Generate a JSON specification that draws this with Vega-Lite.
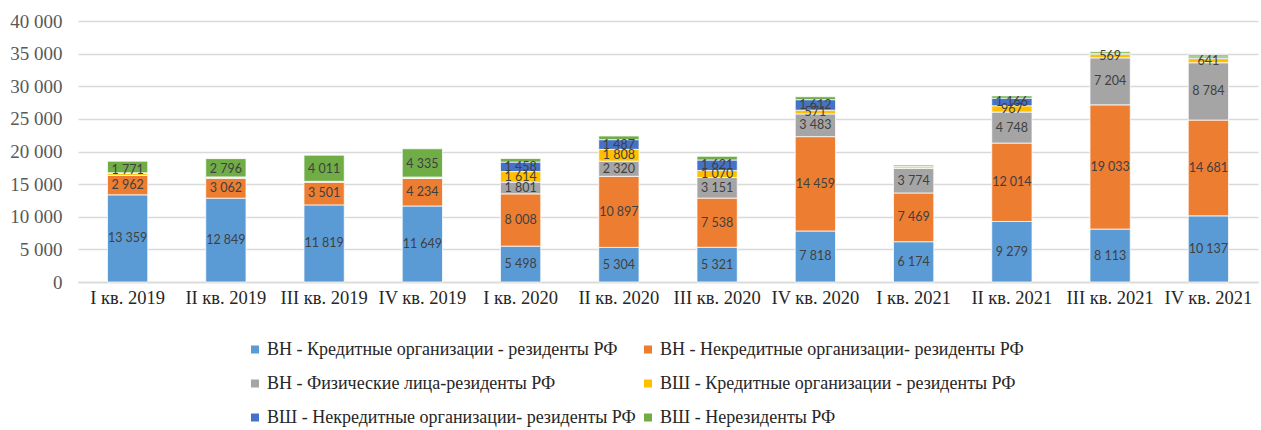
{
  "$schema": "https://vega.github.io/schema/vega-lite/v6.json",
  "autosize": {"type": "none"},
  "padding": {"left": 78, "top": 21, "right": 3, "bottom": 148},
  "width": 1180,
  "height": 261,
  "background": "white",
  "config": {
    "locale": {"number": {"decimal": ",", "thousands": " ", "grouping": [3], "currency": ["", ""]}},
    "view": {"stroke": null}
  },
  "data": {"values": [
    {"q": "I кв. 2019", "s": "ВН - Кредитные организации - резиденты РФ", "v": 13359},
    {"q": "I кв. 2019", "s": "ВН - Некредитные организации- резиденты РФ", "v": 2962},
    {"q": "I кв. 2019", "s": "ВН - Физические лица-резиденты РФ", "v": 20},
    {"q": "I кв. 2019", "s": "ВШ - Кредитные организации - резиденты РФ", "v": 350},
    {"q": "I кв. 2019", "s": "ВШ - Некредитные организации- резиденты РФ", "v": 50},
    {"q": "I кв. 2019", "s": "ВШ - Нерезиденты РФ", "v": 1771},
    {"q": "II кв. 2019", "s": "ВН - Кредитные организации - резиденты РФ", "v": 12849},
    {"q": "II кв. 2019", "s": "ВН - Некредитные организации- резиденты РФ", "v": 3062},
    {"q": "II кв. 2019", "s": "ВН - Физические лица-резиденты РФ", "v": 50},
    {"q": "II кв. 2019", "s": "ВШ - Кредитные организации - резиденты РФ", "v": 50},
    {"q": "II кв. 2019", "s": "ВШ - Некредитные организации- резиденты РФ", "v": 100},
    {"q": "II кв. 2019", "s": "ВШ - Нерезиденты РФ", "v": 2796},
    {"q": "III кв. 2019", "s": "ВН - Кредитные организации - резиденты РФ", "v": 11819},
    {"q": "III кв. 2019", "s": "ВН - Некредитные организации- резиденты РФ", "v": 3501},
    {"q": "III кв. 2019", "s": "ВН - Физические лица-резиденты РФ", "v": 30},
    {"q": "III кв. 2019", "s": "ВШ - Кредитные организации - резиденты РФ", "v": 30},
    {"q": "III кв. 2019", "s": "ВШ - Некредитные организации- резиденты РФ", "v": 50},
    {"q": "III кв. 2019", "s": "ВШ - Нерезиденты РФ", "v": 4011},
    {"q": "IV кв. 2019", "s": "ВН - Кредитные организации - резиденты РФ", "v": 11649},
    {"q": "IV кв. 2019", "s": "ВН - Некредитные организации- резиденты РФ", "v": 4234},
    {"q": "IV кв. 2019", "s": "ВН - Физические лица-резиденты РФ", "v": 50},
    {"q": "IV кв. 2019", "s": "ВШ - Кредитные организации - резиденты РФ", "v": 50},
    {"q": "IV кв. 2019", "s": "ВШ - Некредитные организации- резиденты РФ", "v": 100},
    {"q": "IV кв. 2019", "s": "ВШ - Нерезиденты РФ", "v": 4335},
    {"q": "I кв. 2020", "s": "ВН - Кредитные организации - резиденты РФ", "v": 5498},
    {"q": "I кв. 2020", "s": "ВН - Некредитные организации- резиденты РФ", "v": 8008},
    {"q": "I кв. 2020", "s": "ВН - Физические лица-резиденты РФ", "v": 1801},
    {"q": "I кв. 2020", "s": "ВШ - Кредитные организации - резиденты РФ", "v": 1614},
    {"q": "I кв. 2020", "s": "ВШ - Некредитные организации- резиденты РФ", "v": 1458},
    {"q": "I кв. 2020", "s": "ВШ - Нерезиденты РФ", "v": 540},
    {"q": "II кв. 2020", "s": "ВН - Кредитные организации - резиденты РФ", "v": 5304},
    {"q": "II кв. 2020", "s": "ВН - Некредитные организации- резиденты РФ", "v": 10897},
    {"q": "II кв. 2020", "s": "ВН - Физические лица-резиденты РФ", "v": 2320},
    {"q": "II кв. 2020", "s": "ВШ - Кредитные организации - резиденты РФ", "v": 1808},
    {"q": "II кв. 2020", "s": "ВШ - Некредитные организации- резиденты РФ", "v": 1487},
    {"q": "II кв. 2020", "s": "ВШ - Нерезиденты РФ", "v": 560},
    {"q": "III кв. 2020", "s": "ВН - Кредитные организации - резиденты РФ", "v": 5321},
    {"q": "III кв. 2020", "s": "ВН - Некредитные организации- резиденты РФ", "v": 7538},
    {"q": "III кв. 2020", "s": "ВН - Физические лица-резиденты РФ", "v": 3151},
    {"q": "III кв. 2020", "s": "ВШ - Кредитные организации - резиденты РФ", "v": 1070},
    {"q": "III кв. 2020", "s": "ВШ - Некредитные организации- резиденты РФ", "v": 1621},
    {"q": "III кв. 2020", "s": "ВШ - Нерезиденты РФ", "v": 560},
    {"q": "IV кв. 2020", "s": "ВН - Кредитные организации - резиденты РФ", "v": 7818},
    {"q": "IV кв. 2020", "s": "ВН - Некредитные организации- резиденты РФ", "v": 14459},
    {"q": "IV кв. 2020", "s": "ВН - Физические лица-резиденты РФ", "v": 3483},
    {"q": "IV кв. 2020", "s": "ВШ - Кредитные организации - резиденты РФ", "v": 571},
    {"q": "IV кв. 2020", "s": "ВШ - Некредитные организации- резиденты РФ", "v": 1612},
    {"q": "IV кв. 2020", "s": "ВШ - Нерезиденты РФ", "v": 450},
    {"q": "I кв. 2021", "s": "ВН - Кредитные организации - резиденты РФ", "v": 6174},
    {"q": "I кв. 2021", "s": "ВН - Некредитные организации- резиденты РФ", "v": 7469},
    {"q": "I кв. 2021", "s": "ВН - Физические лица-резиденты РФ", "v": 3774},
    {"q": "I кв. 2021", "s": "ВШ - Кредитные организации - резиденты РФ", "v": 250},
    {"q": "I кв. 2021", "s": "ВШ - Некредитные организации- резиденты РФ", "v": 50},
    {"q": "I кв. 2021", "s": "ВШ - Нерезиденты РФ", "v": 200},
    {"q": "II кв. 2021", "s": "ВН - Кредитные организации - резиденты РФ", "v": 9279},
    {"q": "II кв. 2021", "s": "ВН - Некредитные организации- резиденты РФ", "v": 12014},
    {"q": "II кв. 2021", "s": "ВН - Физические лица-резиденты РФ", "v": 4748},
    {"q": "II кв. 2021", "s": "ВШ - Кредитные организации - резиденты РФ", "v": 967},
    {"q": "II кв. 2021", "s": "ВШ - Некредитные организации- резиденты РФ", "v": 1166},
    {"q": "II кв. 2021", "s": "ВШ - Нерезиденты РФ", "v": 350},
    {"q": "III кв. 2021", "s": "ВН - Кредитные организации - резиденты РФ", "v": 8113},
    {"q": "III кв. 2021", "s": "ВН - Некредитные организации- резиденты РФ", "v": 19033},
    {"q": "III кв. 2021", "s": "ВН - Физические лица-резиденты РФ", "v": 7204},
    {"q": "III кв. 2021", "s": "ВШ - Кредитные организации - резиденты РФ", "v": 569},
    {"q": "III кв. 2021", "s": "ВШ - Некредитные организации- резиденты РФ", "v": 150},
    {"q": "III кв. 2021", "s": "ВШ - Нерезиденты РФ", "v": 250},
    {"q": "IV кв. 2021", "s": "ВН - Кредитные организации - резиденты РФ", "v": 10137},
    {"q": "IV кв. 2021", "s": "ВН - Некредитные организации- резиденты РФ", "v": 14681},
    {"q": "IV кв. 2021", "s": "ВН - Физические лица-резиденты РФ", "v": 8784},
    {"q": "IV кв. 2021", "s": "ВШ - Кредитные организации - резиденты РФ", "v": 641},
    {"q": "IV кв. 2021", "s": "ВШ - Некредитные организации- резиденты РФ", "v": 250},
    {"q": "IV кв. 2021", "s": "ВШ - Нерезиденты РФ", "v": 300}
  ]},
  "encoding": {
    "x": {
      "field": "q", "type": "nominal", "sort": null,
      "scale": {"paddingInner": 0.59, "paddingOuter": 0.3},
      "axis": {"title": null, "labelAngle": 0, "labelFont": "Liberation Serif", "labelFontSize": 18.5, "labelColor": "#262626",
               "labelPadding": 6, "ticks": false, "domainColor": "#D9D9D9", "domainWidth": 1.5}
    },
    "order": {"field": "s", "sort": "ascending"}
  },
  "layer": [
    {
      "mark": {"type": "bar"},
      "encoding": {
        "y": {
          "aggregate": "sum", "field": "v", "type": "quantitative", "stack": "zero",
          "scale": {"domain": [0, 40000]},
          "axis": {"title": null, "tickCount": 8, "format": ",d",
                   "labelFont": "Liberation Serif", "labelFontSize": 19, "labelColor": "#595959", "labelPadding": 16,
                   "ticks": false, "domain": false, "gridColor": "#D9D9D9", "gridWidth": 1.5}
        },
        "color": {
          "field": "s", "type": "nominal",
          "scale": {
            "domain": ["ВН - Кредитные организации - резиденты РФ", "ВН - Некредитные организации- резиденты РФ", "ВН - Физические лица-резиденты РФ", "ВШ - Кредитные организации - резиденты РФ", "ВШ - Некредитные организации- резиденты РФ", "ВШ - Нерезиденты РФ"],
            "range": ["#5B9BD5", "#ED7D31", "#A5A5A5", "#FFC000", "#4472C4", "#70AD47"]
          },
          "legend": {
            "title": null, "orient": "none", "legendX": 168, "legendY": 319.5, "direction": "horizontal", "columns": 2,
            "symbolType": "square", "symbolSize": 64, "symbolStrokeWidth": 0,
            "labelFont": "Liberation Serif", "labelFontSize": 18, "labelColor": "#262626", "labelLimit": 500,
            "rowPadding": 16, "columnPadding": 3, "labelOffset": 3
          }
        },
        "stroke": {"value": "white"},
        "strokeWidth": {"value": 0.75}
      }
    },
    {
      "transform": [{"filter": "datum.v >= 565"}],
      "mark": {"type": "text", "font": "Lato", "fontSize": 12.5, "color": "#404040"},
      "encoding": {
        "y": {
          "aggregate": "sum", "field": "v", "type": "quantitative", "stack": "zero", "bandPosition": 0.5,
          "scale": {"domain": [0, 40000]},
          "axis": {"title": null, "tickCount": 8, "format": ",d",
                   "labelFont": "Liberation Serif", "labelFontSize": 19, "labelColor": "#595959", "labelPadding": 16,
                   "ticks": false, "domain": false, "gridColor": "#D9D9D9", "gridWidth": 1.5}
        },
        "detail": {"field": "s"},
        "text": {"aggregate": "sum", "field": "v", "type": "quantitative", "format": ","}
      }
    }
  ]
}
